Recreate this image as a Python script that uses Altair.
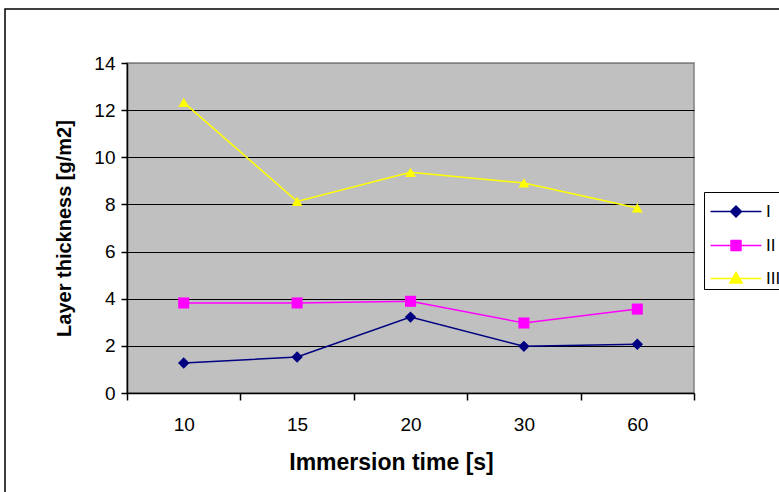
import altair as alt
import pandas as pd

times = ["10", "15", "20", "30", "60"]
series_names = ["I", "II", "III"]
values_I = [1.27, 1.53, 3.22, 1.98, 2.07]
values_II = [3.82, 3.82, 3.89, 2.97, 3.56]
values_III = [12.33, 8.13, 9.36, 8.91, 7.85]
colors = ["#000080", "#FF00FF", "#FFFF00"]
shapes = ["diamond", "square", "triangle-up"]
marker_sizes = [130, 115, 170]
y_ticks = [0, 2, 4, 6, 8, 10, 12, 14]

legend_paths = [
    "M-1.59,0L1.59,0M0,-0.34L0.34,0L0,0.34L-0.34,0Z",
    "M-1.59,0L1.59,0M-0.31,-0.31L0.31,-0.31L0.31,0.31L-0.31,0.31Z",
    "M-1.59,0L1.59,0M0,-0.38L0.38,0.28L-0.38,0.28Z",
]

rows = []
for name, vals in zip(series_names, [values_I, values_II, values_III]):
    for t, v in zip(times, vals):
        rows.append({"time": t, "series": name, "value": v})
df = pd.DataFrame(rows)

FONT = "Liberation Sans"

x_enc = alt.X(
    "time:O",
    sort=times,
    scale=alt.Scale(type="band", paddingInner=0, paddingOuter=0),
    axis=alt.Axis(
        title="Immersion time [s]",
        tickBand="extent",
        labelAngle=0,
        grid=False,
        domainColor="black",
        domainWidth=1.5,
        tickColor="black",
        tickWidth=1.5,
        tickSize=7,
        labelFont=FONT,
        labelFontSize=19,
        labelColor="black",
        labelPadding=15,
        titleFont=FONT,
        titleFontSize=23,
        titleFontWeight="bold",
        titleColor="black",
        titlePadding=17,
        titleX=264,
        titleAlign="center",
    ),
)
y_enc = alt.Y(
    "value:Q",
    scale=alt.Scale(domain=[0, 14], nice=False),
    axis=alt.Axis(
        title="Layer thickness [g/m2]",
        values=y_ticks,
        grid=True,
        gridColor={"condition": {"test": "datum.value === 14", "value": "#808080"}, "value": "black"},
        gridWidth=1.2,
        domainColor="black",
        domainWidth=1.5,
        tickColor="black",
        tickWidth=1.5,
        tickSize=6,
        labelFont=FONT,
        labelFontSize=19,
        labelColor="black",
        labelPadding=6,
        titleFont=FONT,
        titleFontSize=20,
        titleFontWeight="bold",
        titleColor="black",
        titlePadding=19,
    ),
)

border = alt.Chart(alt.Data(values=[{}])).mark_rect(
    fill=None, stroke="#000000", strokeWidth=1.5
).encode(
    x=alt.value(-122), x2=alt.value(800), y=alt.value(-54), y2=alt.value(600)
)

lines = alt.Chart(df).mark_line(strokeWidth=1.5).encode(
    x=x_enc,
    y=y_enc,
    stroke=alt.Stroke("series:N", scale=alt.Scale(domain=series_names, range=colors), legend=None),
    detail="series:N",
)

points = alt.Chart(df).mark_point(filled=True, opacity=1).encode(
    x=x_enc,
    y=y_enc,
    color=alt.Color("series:N", scale=alt.Scale(domain=series_names, range=colors), legend=None),
    shape=alt.Shape("series:N", scale=alt.Scale(domain=series_names, range=shapes), legend=None),
    size=alt.Size("series:N", scale=alt.Scale(domain=series_names, range=marker_sizes), legend=None),
)

legend = alt.Legend(
    title=None,
    orient="none",
    legendX=577,
    legendY=129,
    strokeColor="black",
    fillColor="white",
    padding=2.5,
    labelFont="Liberation Sans Narrow, Liberation Sans",
    labelFontSize=17,
    labelColor="black",
    symbolSize=1024,
    symbolOffset=12.5,
    labelOffset=13,
    rowPadding=8,
    symbolOpacity=1,
    symbolStrokeWidth=1.5,
)

legend_layer = alt.Chart(df).transform_filter("false").mark_point(filled=True, opacity=1).encode(
    x=x_enc,
    y=y_enc,
    fill=alt.Fill("series:N", scale=alt.Scale(domain=series_names, range=colors), legend=legend),
    stroke=alt.Stroke("series:N", scale=alt.Scale(domain=series_names, range=colors), legend=legend),
    shape=alt.Shape("series:N", scale=alt.Scale(domain=series_names, range=legend_paths), legend=legend),
)

chart = alt.layer(border, lines, points, legend_layer).resolve_scale(
    fill="independent", stroke="independent", shape="independent"
).properties(
    width=567,
    height=330,
    autosize=alt.AutoSizeParams(type="none"),
    padding={"left": 127, "top": 63, "right": 85, "bottom": 99},
    background="white",
).configure_view(
    fill="#C0C0C0", stroke="#808080", strokeWidth=1.5
)

chart.save("out.html", embed_options={"renderer": "svg", "actions": False})
